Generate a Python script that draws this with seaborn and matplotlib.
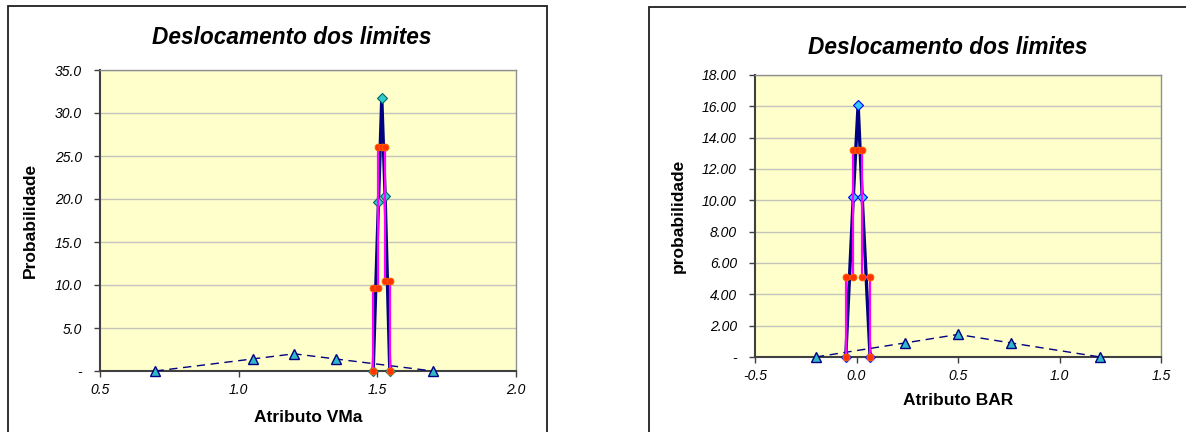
import matplotlib
matplotlib.use("Agg")
import matplotlib.pyplot as plt
from matplotlib.patches import Rectangle
from matplotlib.ticker import FuncFormatter, MultipleLocator
import seaborn as sns

# --- dados ---
# Gráfico 1: Atributo VMa
vma_tri_x = [0.70, 1.05, 1.20, 1.35, 1.70]
vma_tri_y = [0.0, 1.4, 2.0, 1.4, 0.0]
vma_peak_x = [1.485, 1.504, 1.516, 1.528, 1.545]
vma_peak_y = [0.0, 19.6, 31.7, 20.4, 0.0]
vma_step_x = [1.483, 1.483, 1.503, 1.503, 1.516, 1.529, 1.529, 1.545, 1.545]
vma_step_y = [0.0, 9.7, 9.7, 26.0, 26.0, 26.0, 10.5, 10.5, 0.0]

# Gráfico 2: Atributo BAR
bar_tri_x = [-0.20, 0.24, 0.50, 0.76, 1.20]
bar_tri_y = [0.0, 0.9, 1.44, 0.9, 0.0]
bar_peak_x = [-0.053, -0.016, 0.008, 0.028, 0.067]
bar_peak_y = [0.0, 10.2, 16.1, 10.2, 0.0]
bar_step_x = [-0.053, -0.053, -0.016, -0.016, 0.007, 0.029, 0.029, 0.067, 0.067]
bar_step_y = [0.0, 5.1, 5.1, 13.2, 13.2, 13.2, 5.1, 5.1, 0.0]

sns.set_style("white")
plt.rcParams['font.family'] = ['Liberation Sans', 'DejaVu Sans']
plt.rcParams['text.color'] = 'black'
plt.rcParams['axes.labelcolor'] = 'black'
plt.rcParams['xtick.color'] = 'black'
plt.rcParams['ytick.color'] = 'black'

fig = plt.figure(figsize=(11.86, 4.32), dpi=100)

# molduras das áreas de gráfico (estilo Excel)
fig.patches.append(Rectangle((8 / 1186, -0.1), (547 - 8) / 1186, 1.1 - 6 / 432,
                             transform=fig.transFigure, fill=False, ec='#202020', lw=1.3))
fig.patches.append(Rectangle((649 / 1186, -0.1), 0.6, 1.1 - 7 / 432,
                             transform=fig.transFigure, fill=False, ec='#202020', lw=1.3))

ax1 = fig.add_axes([100 / 1186, 1 - 371 / 432, 416 / 1186, 301 / 432])
ax2 = fig.add_axes([755 / 1186, 1 - 357 / 432, 406 / 1186, 282 / 432])


def desenhar(ax, tx, ty, px, py, sx, sy, dia_face, dia_edge):
    sns.lineplot(x=tx, y=ty, ax=ax, sort=False, estimator=None, color='#000080',
                 lw=1.0, linestyle=(0, (6, 4)), marker='^', markersize=6.5,
                 markerfacecolor='#2EB8C8', markeredgecolor='#000080', markeredgewidth=1,
                 clip_on=False, zorder=4)
    sns.lineplot(x=px, y=py, ax=ax, sort=False, estimator=None, color='#000080',
                 lw=2.4, marker='D', markersize=5,
                 markerfacecolor=dia_face, markeredgecolor=dia_edge, markeredgewidth=0.8,
                 clip_on=False, zorder=5)
    sns.lineplot(x=sx, y=sy, ax=ax, sort=False, estimator=None, color='#FF00FF',
                 lw=1.6, marker='o', markersize=5,
                 markerfacecolor='#FF3300', markeredgecolor='#FF6600', markeredgewidth=0.6,
                 clip_on=False, zorder=6)


desenhar(ax1, vma_tri_x, vma_tri_y, vma_peak_x, vma_peak_y, vma_step_x, vma_step_y,
         '#33CCCC', '#006666')
desenhar(ax2, bar_tri_x, bar_tri_y, bar_peak_x, bar_peak_y, bar_step_x, bar_step_y,
         '#33CCFF', '#0000FF')

ax1.set_xlim(0.5, 2.0)
ax1.set_ylim(0, 35)
ax1.xaxis.set_major_locator(MultipleLocator(0.5))
ax1.yaxis.set_major_locator(MultipleLocator(5))
ax1.yaxis.set_major_formatter(FuncFormatter(lambda v, p: '-' if abs(v) < 1e-9 else f'{v:.1f}'))
ax1.xaxis.set_major_formatter(FuncFormatter(lambda v, p: f'{v:.1f}'))

ax2.set_xlim(-0.5, 1.5)
ax2.set_ylim(0, 18)
ax2.xaxis.set_major_locator(MultipleLocator(0.5))
ax2.yaxis.set_major_locator(MultipleLocator(2))
ax2.yaxis.set_major_formatter(FuncFormatter(lambda v, p: '-' if abs(v) < 1e-9 else f'{v:.2f}'))
ax2.xaxis.set_major_formatter(FuncFormatter(lambda v, p: f'{v:.1f}'))

for ax in (ax1, ax2):
    ax.set_facecolor('#FFFFCC')
    ax.grid(axis='y', color='#C4C4BC', lw=1.0)
    ax.set_axisbelow(True)
    for s in ('top', 'right'):
        ax.spines[s].set_color('#909090')
        ax.spines[s].set_linewidth(1.0)
    for s in ('left', 'bottom'):
        ax.spines[s].set_color('#404040')
        ax.spines[s].set_linewidth(1.5)
    ax.tick_params(axis='both', direction='out', length=4, width=1, color='#404040',
                   labelsize=10, bottom=True, left=True)
    ax.tick_params(axis='y', pad=9)
    ax.tick_params(axis='x', pad=5)
    for lab in ax.get_xticklabels() + ax.get_yticklabels():
        lab.set_fontstyle('italic')

ax1.set_xlabel('Atributo VMa', fontsize=12.5, fontweight='bold', labelpad=9)
ax1.set_ylabel('Probabilidade', fontsize=12.5, fontweight='bold', labelpad=12)
ax2.set_xlabel('Atributo BAR', fontsize=12.5, fontweight='bold', labelpad=7)
ax2.set_ylabel('probabilidade', fontsize=12.5, fontweight='bold', labelpad=12)

fig.text(292 / 1186, 1 - 37 / 432, 'Deslocamento dos limites', fontsize=16.3,
         fontweight='bold', fontstyle='italic', ha='center', va='center')
fig.text(948 / 1186, 1 - 47 / 432, 'Deslocamento dos limites', fontsize=16.3,
         fontweight='bold', fontstyle='italic', ha='center', va='center')

fig.savefig('out.png', dpi=100)
